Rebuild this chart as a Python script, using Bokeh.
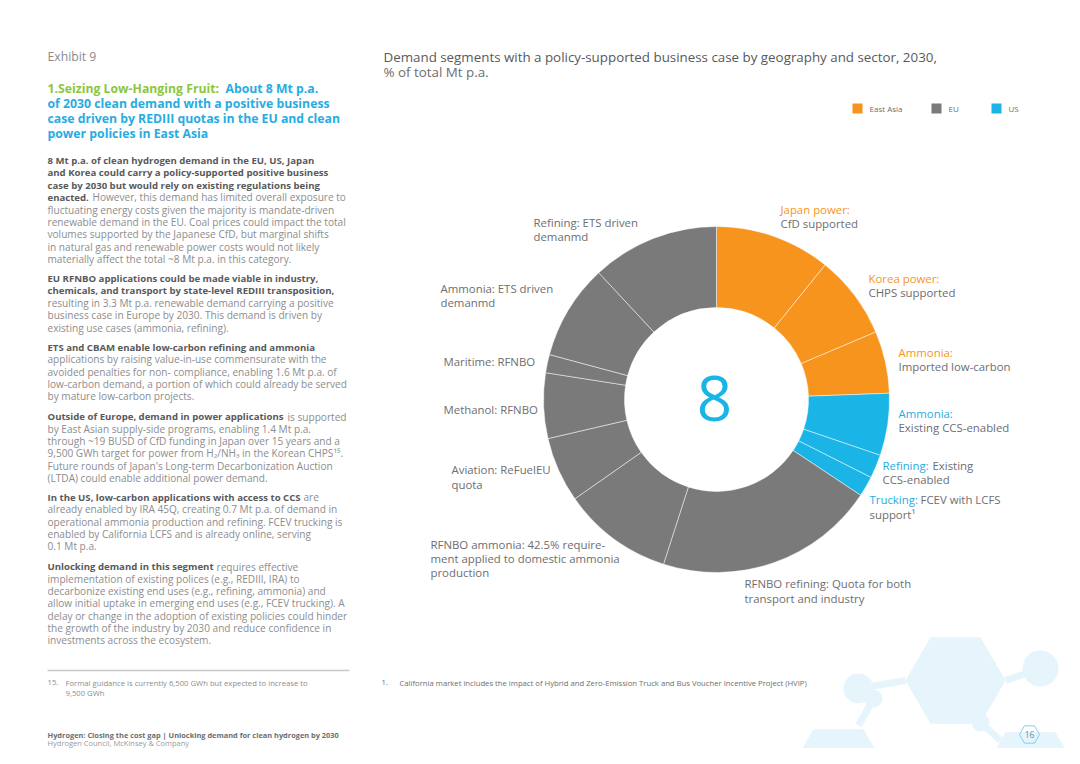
import numpy as np
from bokeh.plotting import figure
from bokeh.models import Range1d, ColumnDataSource
from bokeh.embed import file_html
from bokeh.resources import INLINE
from bokeh.core.properties import value

# ---------------- data ----------------
segments = [
    "Japan power: CfD supported",
    "Korea power: CHPS supported",
    "Ammonia: Imported low-carbon",
    "Ammonia: Existing CCS-enabled",
    "Refining: Existing CCS-enabled",
    "Trucking: FCEV with LCFS support",
    "RFNBO refining: Quota for both transport and industry",
    "RFNBO ammonia: 42.5% requirement applied to domestic ammonia production",
    "Aviation: ReFuelEU quota",
    "Methanol: RFNBO",
    "Maritime: RFNBO",
    "Ammonia: ETS driven demand",
    "Refining: ETS driven demand",
]
geography = ["East Asia", "East Asia", "East Asia", "US", "US", "US",
             "EU", "EU", "EU", "EU", "EU", "EU", "EU"]
share_pct = [10.8, 7.8, 5.8, 5.8, 2.2, 1.9, 20.6, 10.3, 6.1, 6.1, 1.7, 8.9, 11.9]
legend_names = ["East Asia", "EU", "US"]
geo_colors = {"East Asia": "#F7941D", "EU": "#7A7A7A", "US": "#1BB4E6"}
total_mt = "8"

FONT = "Open Sans"
W, H = 1064, 748


def X(px):
    return px


def Y(py):
    return H - py


p = figure(width=W, height=H, x_range=Range1d(0, W), y_range=Range1d(0, H),
           output_backend="svg", toolbar_location=None, min_border=0,
           x_axis_type=None, y_axis_type=None)
p.grid.visible = False
p.outline_line_color = None
p.background_fill_color = "white"
p.border_fill_color = "white"

# ---------------- decorative background hexagons ----------------
deco = "#E6F5FB"


def hexagon(cx, cy, r):
    a = np.radians(np.arange(0, 360, 60))
    return list(X(cx) + r * np.cos(a)), list(Y(cy) + r * np.sin(a))


hx, hy = [], []
for (hcx, hcy, r) in [(955, 680, 50), (838, 772, 50), (1030, 775, 50)]:
    xs, ys = hexagon(hcx, hcy, r)
    hx.append(xs)
    hy.append(ys)
p.patches(hx, hy, fill_color=deco, line_color=None)
p.segment(x0=[X(858), X(1005), X(873), X(980)], y0=[Y(688), Y(680), Y(698), Y(722)],
          x1=[X(905), X(1040), X(858), X(1000)], y1=[Y(680), Y(668), Y(725), Y(740)],
          line_color=deco, line_width=7)
p.circle(x=[X(858), X(1040), X(873), X(980)], y=[Y(688), Y(668), Y(698), Y(722)],
         radius=[15, 18, 9, 9], fill_color=deco, line_color=None)

# ---------------- donut ----------------
frac = np.array(share_pct) / sum(share_pct)
cum = np.cumsum(frac)
src = ColumnDataSource(dict(
    seg=segments,
    start=np.pi / 2 - 2 * np.pi * (cum - frac),
    end=np.pi / 2 - 2 * np.pi * cum,
    color=[geo_colors[g] for g in geography],
))
cx, cy = X(716), Y(399)
p.annular_wedge(x=cx, y=cy, inner_radius=92, outer_radius=173,
                start_angle="start", end_angle="end", direction="clock",
                fill_color="color", line_color="white", line_width=0.8,
                line_alpha=0.6, source=src)

# ---------------- legend ----------------
lx = [857, 936, 996]
p.rect(x=[X(v) for v in lx], y=[Y(108)] * 3, width=10, height=10,
       fill_color=[geo_colors[g] for g in legend_names], line_color=None)

# ---------------- texts ----------------
groups = {}


def t(x, y, s, size, color, bold=False, align="left"):
    key = (size, color, bold, align)
    g = groups.setdefault(key, {"x": [], "y": [], "text": []})
    g["x"].append(X(x))
    g["y"].append(Y(y))
    g["text"].append(s)


for nm, x in zip(legend_names, lx):
    t(x + 12, 108, nm, 8, "#6D6E71")

GREEN, BLUE, ORANGE = "#8CC63F", "#27ACE2", "#F7941D"
DARK, LIGHT, LAB = "#58595B", "#8C8D8F", "#6D6E71"

TS = 12.25
t(47, 56, "Exhibit 9", 12.2, "#8A8A8A")
t(47, 88, "1.Seizing Low-Hanging Fruit:", TS, GREEN, True)
t(225, 88, "About 8 Mt p.a.", TS, BLUE, True)
for i, s in enumerate(["of 2030 clean demand with a positive business",
                       "case driven by REDIII quotas in the EU and clean",
                       "power policies in East Asia"]):
    t(47, 103 + 15 * i, s, TS, BLUE, True)

BB = 9.6
BR = 10.1
LS = 12.3


def para(y0, bold_lines, reg_lines, mixed=None):
    # mixed = (bold text, x of regular part, regular text) as the line after bold_lines
    y = y0
    for s in bold_lines:
        t(47, y, s, BB, DARK, True)
        y += LS
    if mixed:
        t(47, y, mixed[0], BB, DARK, True)
        t(mixed[1], y, mixed[2], BR, LIGHT)
        y += LS
    for s in reg_lines:
        t(47, y, s, BR, LIGHT)
        y += LS


para(160, ["8 Mt p.a. of clean hydrogen demand in the EU, US, Japan",
           "and Korea could carry a policy-supported positive business",
           "case by 2030 but would rely on existing regulations being"],
     ["fluctuating energy costs given the majority is mandate-driven",
      "renewable demand in the EU. Coal prices could impact the total",
      "volumes supported by the Japanese CfD, but marginal shifts",
      "in natural gas and renewable power costs would not likely",
      "materially affect the total ~8 Mt p.a. in this category."],
     ("enacted.", 92, "However, this demand has limited overall exposure to"))
para(278, ["EU RFNBO applications could be made viable in industry,",
           "chemicals, and transport by state-level REDIII transposition,"],
     ["resulting in 3.3 Mt p.a. renewable demand carrying a positive",
      "business case in Europe by 2030. This demand is driven by",
      "existing use cases (ammonia, refining)."])
para(346.5, ["ETS and CBAM enable low-carbon refining and ammonia"],
     ["applications by raising value-in-use commensurate with the",
      "avoided penalties for non- compliance, enabling 1.6 Mt p.a. of",
      "low-carbon demand, a portion of which could already be served",
      "by mature low-carbon projects."])
para(416, [],
     ["by East Asian supply-side programs, enabling 1.4 Mt p.a.",
      "through ~19 BUSD of CfD funding in Japan over 15 years and a",
      "9,500 GWh target for power from H\u2082/NH\u2083 in the Korean CHPS\u00b9\u2075.",
      "Future rounds of Japan's Long-term Decarbonization Auction",
      "(LTDA) could enable additional power demand."],
     ("Outside of Europe, demand in power applications", 287, "is supported"))
para(496.5, [],
     ["already enabled by IRA 45Q, creating 0.7 Mt p.a. of demand in",
      "operational ammonia production and refining. FCEV trucking is",
      "enabled by California LCFS and is already online, serving",
      "0.1 Mt p.a."],
     ("In the US, low-carbon applications with access to CCS", 303, "are"))
para(566, [],
     ["implementation of existing polices (e.g., REDIII, IRA) to",
      "decarbonize existing end uses (e.g., refining, ammonia) and",
      "allow initial uptake in emerging end uses (e.g., FCEV trucking). A",
      "delay or change in the adoption of existing policies could hinder",
      "the growth of the industry by 2030 and reduce confidence in",
      "investments across the ecosystem."],
     ("Unlocking demand in this segment", 216, "requires effective"))

# separator and footnotes
p.segment(x0=[X(47)], y0=[Y(670)], x1=[X(349)], y1=[Y(670)], line_color="#C8C8C8", line_width=1.5)
FN = 7.7
t(47, 682, "15.", FN, LIGHT)
t(65, 682, "Formal guidance is currently 6,500 GWh but expected to increase to", FN, LIGHT)
t(65, 692, "9,500 GWh", FN, LIGHT)
t(47, 734, "Hydrogen: Closing the cost gap | Unlocking demand for clean hydrogen by 2030", 7.4, "#6D6E71", True)
t(47, 742.5, "Hydrogen Council, McKinsey & Company", 7.5, "#9A9A9C")
t(381, 682, "1.", FN, "#6D6E71")
t(399, 682, "California market includes the impact of Hybrid and Zero-Emission Truck and Bus Voucher Incentive Project (HVIP)", FN, "#6D6E71")

# chart title
t(383, 56, "Demand segments with a policy-supported business case by geography and sector, 2030,", 13.35, "#58595B")
t(383, 71, "% of total Mt p.a.", 13.35, "#6D6E71")

# donut labels
LB = 11.4
t(533, 222, "Refining: ETS driven", LB, LAB)
t(533, 236, "demanmd", LB, LAB)
t(440, 288, "Ammonia: ETS driven", LB, LAB)
t(440, 302, "demanmd", LB, LAB)
t(443, 361, "Maritime: RFNBO", LB, LAB)
t(443, 409, "Methanol: RFNBO", LB, LAB)
t(451, 469, "Aviation: ReFuelEU", LB, LAB)
t(451, 484, "quota", LB, LAB)
t(430, 544, "RFNBO ammonia: 42.5% require-", LB, LAB)
t(430, 558, "ment applied to domestic ammonia", LB, LAB)
t(430, 572, "production", LB, LAB)
t(744, 583, "RFNBO refining: Quota for both", LB, LAB)
t(744, 598, "transport and industry", LB, LAB)
t(780, 209, "Japan power:", LB, ORANGE)
t(780, 223, "CfD supported", LB, LAB)
t(868, 278, "Korea power:", LB, ORANGE)
t(868, 292, "CHPS supported", LB, LAB)
t(898, 352, "Ammonia:", LB, ORANGE)
t(898, 366, "Imported low-carbon", LB, LAB)
t(898, 413, "Ammonia:", LB, BLUE)
t(898, 427, "Existing CCS-enabled", LB, LAB)
t(882, 465, "Refining:", LB, BLUE)
t(932, 465, "Existing", LB, LAB)
t(882, 479, "CCS-enabled", LB, LAB)
t(869, 499, "Trucking:", LB, BLUE)
t(920, 499, "FCEV with LCFS", LB, LAB)
t(869, 514, "support\u00b9", LB, LAB)

# center total
t(714, 398, total_mt, 62, "#1BB4E6", False, "center")

# page number
pxs, pys = hexagon(1029, 734, 10)
p.patch(pxs, pys, fill_color=None, line_color="#7FD0EE", line_width=1)
t(1029, 734, "16", 8.5, "#5A8FA8", False, "center")

for (size, color, bold, align), g in groups.items():
    p.text(x=g["x"], y=g["y"], text=g["text"], text_font=value(FONT),
           text_font_size=value(f"{size}px"), text_color=color,
           text_font_style="bold" if bold else "normal",
           text_align=align, text_baseline="middle")

open("out.html", "w").write(file_html(p, INLINE))
